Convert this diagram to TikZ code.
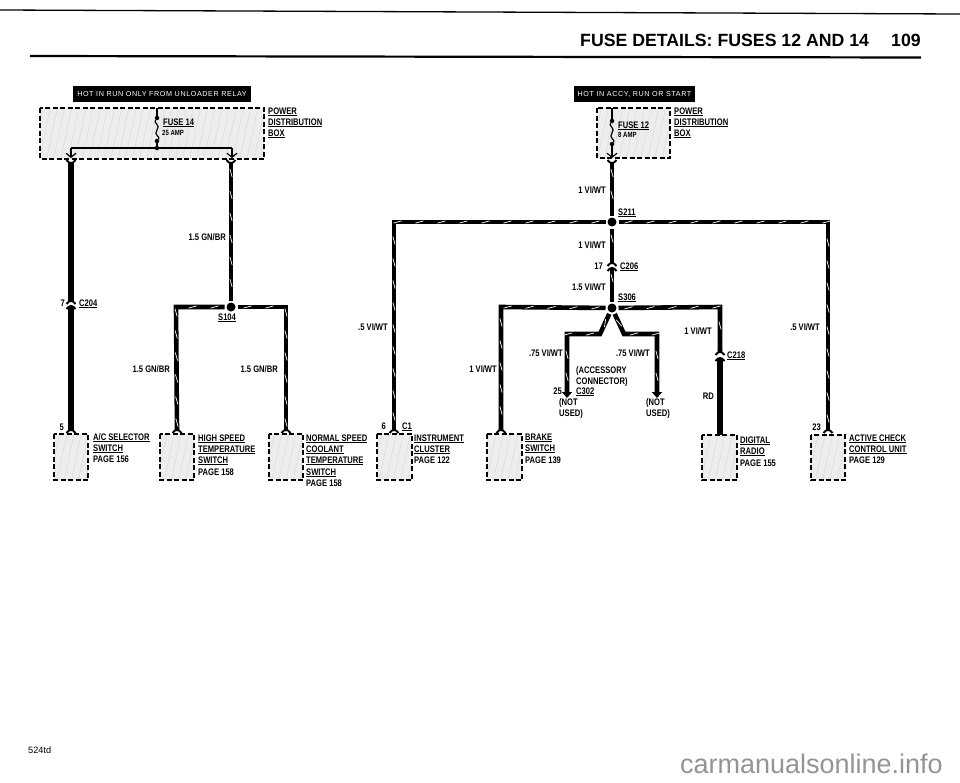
\documentclass[tikz,border=0pt]{standalone}
\usepackage{fontspec}
\setmainfont[FakeStretch=0.8]{Liberation Sans Bold}
\newfontfamily\titlefont{Liberation Sans Bold}
\newfontfamily\plainfont{Liberation Sans}
\newfontfamily\hotfont[LetterSpace=8]{Liberation Sans}
\usetikzlibrary{arrows.meta,decorations.markings,patterns.meta}

\newcommand{\ul}[1]{\vtop{\hbox{#1}\kern1.2pt\hrule height 0.9pt}}

\tikzset{
  lbl/.style={anchor=base west,inner sep=0pt,font=\fontsize{9.5}{10}\selectfont},
  rlbl/.style={anchor=base east,inner sep=0pt,font=\fontsize{9.5}{10}\selectfont},
  smalllbl/.style={lbl,font=\fontsize{7.5}{8}\selectfont},
  headlbl/.style={anchor=base west,inner sep=0pt,font=\titlefont\fontsize{17.7}{18}\selectfont},
  hotlabel/.style={fill=black,text=white,inner sep=0pt,minimum height=16pt,font=\hotfont\fontsize{7.2}{8}\selectfont},
  compbox/.style={draw,line width=1.7pt,dash pattern=on 5pt off 2.5pt,
      preaction={fill=black!7},
      preaction={pattern={Lines[angle=78,distance=7pt,line width=.5pt]},pattern color=black!14}},
  solidwire/.style={line width=5.5pt},
  hatchwire/.style={line width=4.6pt,postaction={decorate,decoration={markings,
      mark=between positions 10pt and -6pt step 22pt with {\draw[white,line width=.7pt,solid,-] (-4pt,-1.1pt) -- (4pt,1.1pt);}}}},
  thinwire/.style={line width=1.2pt},
  fusetip/.style={-{Straight Barb[length=4pt,width=10pt]}},
  endtip/.style={-{Triangle[length=6pt,width=10pt]}},
  splice/.style={circle,fill=black,inner sep=0pt,minimum size=9pt,outer sep=2pt},
  fusedot/.style={circle,fill=black,inner sep=0pt,minimum size=4.5pt},
  capup/.pic={\draw[line width=1.9pt] (-4.5,3) .. controls (-2,-1) and (2,-1) .. (4.5,3);},
  capdown/.pic={\draw[line width=1.9pt] (-4.5,-3) .. controls (-2,1) and (2,1) .. (4.5,-3);}
}

\begin{document}
\begin{tikzpicture}[x=1pt,y=-1pt]
  \useasboundingbox (0,0) rectangle (960,782);

  % page rules and heading
  \coordinate (ruleaw) at (0,10);
  \coordinate (ruleae) at (960,14);
  \coordinate (rulebw) at (30,56);
  \coordinate (rulebe) at (921,57.5);
  \draw[line width=1.3pt] (ruleaw) -- (ruleae);
  \draw[line width=2.2pt] (rulebw) -- (rulebe);
  \node[headlbl] (title) at (580,46) {FUSE DETAILS: FUSES 12 AND 14};
  \node[headlbl] (pageno) at (891,46) {109};
  \node[anchor=base west,inner sep=0pt,font=\plainfont\fontsize{9.2}{10}\selectfont] (variant) at (28,753) {524td};
  \node[anchor=base east,inner sep=0pt,text=black!42,font=\plainfont\fontsize{27}{28}\selectfont] (site) at (943,773) {carmanualsonline.info};

  % fuse boxes
  \node[hotlabel,minimum width=178pt] (hota) at (162,94) {HOT IN RUN ONLY FROM UNLOADER RELAY};
  \node[hotlabel,minimum width=121pt] (hotb) at (634.5,94) {HOT IN ACCY, RUN OR START};
  \draw[compbox] (40,108) rectangle (264,159);
  \draw[compbox] (597,108) rectangle (670,158);
  \node[lbl] (powa) at (268,114) {\ul{POWER}};
  \node[lbl] (disa) at (268,125) {\ul{DISTRIBUTION}};
  \node[lbl] (boxa) at (268,136) {\ul{BOX}};
  \node[lbl] (powb) at (674,114) {\ul{POWER}};
  \node[lbl] (disb) at (674,125) {\ul{DISTRIBUTION}};
  \node[lbl] (boxb) at (674,136) {\ul{BOX}};
  \node[lbl] (fusea) at (163,125) {\ul{FUSE 14}};
  \node[smalllbl] (ampa) at (162,135) {25 AMP};
  \node[lbl] (fuseb) at (618,128) {\ul{FUSE 12}};
  \node[smalllbl] (ampb) at (618,137) {8 AMP};

  % fuse 14 inside the box
  \coordinate (feeda) at (157,108);
  \node[fusedot] (fa1) at (157,118) {};
  \node[fusedot] (fa2) at (157,141) {};
  \node[fusedot] (fa3) at (157,148) {};
  \coordinate (outl) at (71,148);
  \coordinate (outr) at (232,148);
  \coordinate (inl) at (71,158);
  \coordinate (inr) at (232,158);
  \draw[thinwire] (feeda) -- (fa1);
  \draw[thinwire] (fa1) .. controls (153,123) and (161,125) .. (157,130) .. controls (153,135) and (161,137) .. (fa2);
  \draw[thinwire] (fa2) -- (fa3);
  \draw[thinwire] (outl) -- (outr);
  \draw[thinwire,fusetip] (outl) -- (inl);
  \draw[thinwire,fusetip] (outr) -- (inr);

  % fuse 12 inside the box
  \coordinate (feedb) at (612,108);
  \node[fusedot] (fb1) at (612,121) {};
  \node[fusedot] (fb2) at (612,144) {};
  \coordinate (inb) at (612,158);
  \draw[thinwire] (feedb) -- (fb1);
  \draw[thinwire] (fb1) .. controls (608,126) and (616,128) .. (612,133) .. controls (608,138) and (616,140) .. (fb2);
  \draw[thinwire,fusetip] (fb2) -- (inb);

  % components along the bottom
  \draw[compbox] (54,434) rectangle (88,480);
  \draw[compbox] (160,434) rectangle (194,480);
  \draw[compbox] (269,434) rectangle (303,480);
  \draw[compbox] (377,434) rectangle (412,480);
  \draw[compbox] (487,434) rectangle (522,480);
  \draw[compbox] (702,435) rectangle (737,480);
  \draw[compbox] (811,435) rectangle (845,480);

  \node[lbl] (aca) at (93,440) {\ul{A/C SELECTOR}};
  \node[lbl] (acb) at (93,451) {\ul{SWITCH}};
  \node[lbl] (acc) at (93,462) {PAGE 156};
  \node[lbl] (hsa) at (198,441) {\ul{HIGH SPEED}};
  \node[lbl] (hsb) at (198,452) {\ul{TEMPERATURE}};
  \node[lbl] (hsc) at (198,463) {\ul{SWITCH}};
  \node[lbl] (hsd) at (198,475) {PAGE 158};
  \node[lbl] (nsa) at (306,441) {\ul{NORMAL SPEED}};
  \node[lbl] (nsb) at (306,452) {\ul{COOLANT}};
  \node[lbl] (nsc) at (306,463) {\ul{TEMPERATURE}};
  \node[lbl] (nsd) at (306,475) {\ul{SWITCH}};
  \node[lbl] (nse) at (306,486) {PAGE 158};
  \node[lbl] (ica) at (414,441) {\ul{INSTRUMENT}};
  \node[lbl] (icb) at (414,452) {\ul{CLUSTER}};
  \node[lbl] (icc) at (414,463) {PAGE 122};
  \node[lbl] (bra) at (525,440) {\ul{BRAKE}};
  \node[lbl] (brb) at (525,451) {\ul{SWITCH}};
  \node[lbl] (brc) at (525,463) {PAGE 139};
  \node[lbl] (dra) at (740,443) {\ul{DIGITAL}};
  \node[lbl] (drb) at (740,454) {\ul{RADIO}};
  \node[lbl] (drc) at (740,466) {PAGE 155};
  \node[lbl] (cca) at (849,441) {\ul{ACTIVE CHECK}};
  \node[lbl] (ccb) at (849,452) {\ul{CONTROL UNIT}};
  \node[lbl] (ccc) at (849,463) {PAGE 129};

  % splices
  \node[splice] (s104) at (231,307) {};
  \node[splice] (s211) at (612,222) {};
  \node[splice] (s306) at (612,308) {};

  % wire ends
  \coordinate (wal) at (71,163);
  \coordinate (c204a) at (71,301);
  \coordinate (c204b) at (71,306);
  \coordinate (acsw) at (71,430);
  \coordinate (war) at (231,163);
  \coordinate (s104l) at (176,307);
  \coordinate (s104r) at (286,307);
  \coordinate (hssw) at (177,430);
  \coordinate (nssw) at (286,430);
  \coordinate (wb) at (612,163);
  \coordinate (s211l) at (394,222);
  \coordinate (s211r) at (828,222);
  \coordinate (clsw) at (394,430);
  \coordinate (ccsw) at (828,430);
  \coordinate (c206a) at (612,263);
  \coordinate (c206b) at (612,268);
  \coordinate (s306l) at (501,307);
  \coordinate (s306r) at (720,307);
  \coordinate (brsw) at (501,430);
  \coordinate (c218a) at (720,352);
  \coordinate (c218b) at (720,358);
  \coordinate (rdsw) at (720,435);
  \coordinate (kinkla) at (600,334);
  \coordinate (kinklb) at (567,334);
  \coordinate (kinkra) at (624,334);
  \coordinate (kinkrb) at (657,334);
  \coordinate (accl) at (567,398);
  \coordinate (accr) at (657,398);

  % wires
  \draw[solidwire] (wal) -- (c204a);
  \draw[solidwire] (c204b) -- (acsw);
  \draw[hatchwire] (war) -- (s104);
  \draw[hatchwire] (s104) -- (s104l) -- (hssw);
  \draw[hatchwire] (s104) -- (s104r) -- (nssw);
  \draw[hatchwire] (wb) -- (s211);
  \draw[hatchwire] (s211) -- (s211l) -- (clsw);
  \draw[hatchwire] (s211) -- (s211r) -- (ccsw);
  \draw[hatchwire] (s211) -- (c206a);
  \draw[hatchwire] (c206b) -- (s306);
  \draw[hatchwire] (s306) -- (s306l) -- (brsw);
  \draw[hatchwire] (s306) -- (s306r) -- (c218a);
  \draw[solidwire] (c218b) -- (rdsw);
  \draw[hatchwire,endtip] (s306) -- (kinkla) -- (kinklb) -- (accl);
  \draw[hatchwire,endtip] (s306) -- (kinkra) -- (kinkrb) -- (accr);

  % connector ends
  \pic at (wal) {capdown};
  \pic at (war) {capdown};
  \pic at (wb) {capdown};
  \pic at (c204a) {capup};
  \pic at (c204b) {capup};
  \pic at (c206a) {capup};
  \pic at (c206b) {capup};
  \pic at (c218a) {capup};
  \pic at (c218b) {capup};
  \pic at (acsw) {capup};
  \pic at (hssw) {capup};
  \pic at (nssw) {capup};
  \pic at (clsw) {capup};
  \pic at (brsw) {capup};
  \pic at (ccsw) {capup};

  % wire and connector labels
  \node[rlbl] (n7) at (65,306) {7};
  \node[lbl] (c204) at (79,306) {\ul{C204}};
  \node[rlbl] (n5) at (64,430) {5};
  \node[rlbl] (wlbla) at (226,240) {1.5 GN/BR};
  \node[lbl] (t104) at (218,320) {\ul{S104}};
  \node[rlbl] (wlblb) at (170,372) {1.5 GN/BR};
  \node[rlbl] (wlblc) at (278,372) {1.5 GN/BR};
  \node[rlbl] (wlbld) at (388,330) {.5 VI/WT};
  \node[rlbl] (n6) at (386,429) {6};
  \node[lbl] (c1) at (402,429) {\ul{C1}};
  \node[rlbl] (wlble) at (606,193) {1 VI/WT};
  \node[lbl] (t211) at (618,215) {\ul{S211}};
  \node[rlbl] (wlblf) at (606,248) {1 VI/WT};
  \node[rlbl] (n17) at (603,269) {17};
  \node[lbl] (c206) at (620,269) {\ul{C206}};
  \node[rlbl] (wlblg) at (606,290) {1.5 VI/WT};
  \node[lbl] (t306) at (618,300) {\ul{S306}};
  \node[rlbl] (wlblh) at (497,372) {1 VI/WT};
  \node[rlbl] (wlbli) at (563,356) {.75 VI/WT};
  \node[rlbl] (wlblj) at (650,356) {.75 VI/WT};
  \node[lbl] (accone) at (576,373) {(ACCESSORY};
  \node[lbl] (acctwo) at (576,384) {CONNECTOR)};
  \node[rlbl] (n25) at (562,394) {25};
  \node[lbl] (c302) at (576,394) {\ul{C302}};
  \node[lbl] (nota) at (559,405) {(NOT};
  \node[lbl] (useda) at (559,416) {USED)};
  \node[lbl] (notb) at (646,405) {(NOT};
  \node[lbl] (usedb) at (646,416) {USED)};
  \node[rlbl] (wlblk) at (712,334) {1 VI/WT};
  \node[lbl] (c218) at (727,358) {\ul{C218}};
  \node[rlbl] (wlbll) at (714,399) {RD};
  \node[rlbl] (wlblm) at (820,330) {.5 VI/WT};
  \node[rlbl] (n23) at (821,430) {23};
\end{tikzpicture}
\end{document}
